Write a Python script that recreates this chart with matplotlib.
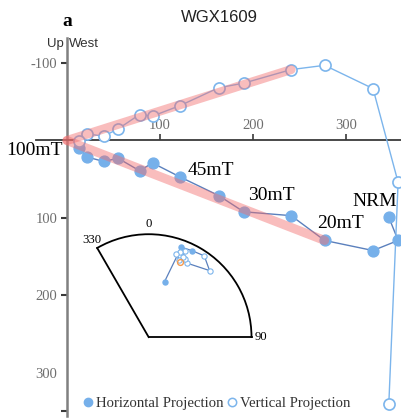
import matplotlib
matplotlib.use("Agg")
import matplotlib.pyplot as plt
from matplotlib.lines import Line2D
import numpy as np

plt.rcParams['axes.unicode_minus'] = False
SERIF = ['Liberation Serif', 'DejaVu Serif']
SANS = ['Liberation Sans', 'DejaVu Sans']

# Demagnetisation steps, NRM first
step_labels = ['NRM', '', '', '20mT', '', '30mT', '', '45mT', '', '', '', '', '', '100mT']
west = [346, 356, 329, 277, 241, 190, 163, 121.5, 92, 78, 55, 39.5, 22, 12.5]
horiz = [99, 129, 142, 129, 97, 92, 71, 47, 29, 39, 23, 27, 21.5, 9.5]
vert = [340, 54, -67, -97, -91.5, -74, -68, -45, -31.5, -33.5, -15, -5.5, -8.5, 1]

# Characteristic component fits (origin to the last step used)
fit_h_step = 3
fit_v_step = 4

x_ticks = [100, 200, 300]
y_ticks = [-100, 100, 200, 300]

# Equal-area net: declination and projected radius of each step
net_dec = [16, 20, 26.6, 34.4, 42.5, 27.4, 25.1, 23.1, 23, 20.3, 18.4, 21.7]
net_r = [0.56, 0.93, 0.94, 0.957, 0.877, 0.81, 0.84, 0.85, 0.91, 0.886, 0.85, 0.81]
net_lower = [True, True, True, False, False, False, False, False, False, False, False, False]
mean_dec = [22.7]
mean_r = [0.796]

H_COLOR = '#76b0ea'
H_LINE = '#5b80bd'
V_COLOR = '#7cb5ec'
FIT = '#f26d6d'

fig = plt.figure(figsize=(4.01, 4.19), dpi=100)
ax = fig.add_axes([0, 0, 1, 1])
ax.set_xlim(-72.0, 359.1)
ax.set_ylim(359.4, -181.3)
ax.patch.set_visible(False)

# projections
ax.plot(west, horiz, color=H_LINE, lw=1.0, zorder=3)
ax.plot(west, horiz, 'o', ms=7.8, mfc=H_COLOR, mec=H_COLOR, lw=0, zorder=4, clip_on=False)
ax.plot(west, vert, color=V_COLOR, lw=1.0, zorder=3)
ax.plot(west, vert, 'o', ms=8.0, mfc='white', mec=V_COLOR, mew=1.2, lw=0, zorder=4, clip_on=False)

# fit lines
ax.plot([0, west[fit_h_step]], [0, horiz[fit_h_step]], color=FIT, lw=6.5, alpha=0.45,
        solid_capstyle='round', zorder=5)
ax.plot([0, west[fit_v_step]], [0, vert[fit_v_step]], color=FIT, lw=6.5, alpha=0.45,
        solid_capstyle='round', zorder=5)

# step labels
offsets = {'NRM': (-10.4, 11.2), '20mT': (11.2, 11.9), '30mT': (19.8, 12.0),
           '45mT': (22.0, 4.8), '100mT': (-31.5, -2.0)}
for lab, x, y in zip(step_labels, west, horiz):
    if lab:
        ax.annotate(lab, (x, y), xytext=offsets[lab], textcoords='offset points',
                    ha='center', va='center', fontsize=14, family=SERIF, color='black', zorder=6)

# axes through the origin
for s in ['right', 'bottom']:
    ax.spines[s].set_visible(False)
ax.spines['left'].set_position(('data', 0))
ax.spines['left'].set_bounds(-132, 355.5)
ax.spines['left'].set_color('#808080')
ax.spines['left'].set_linewidth(1.8)
ax.spines['top'].set_position(('data', 0))
ax.spines['top'].set_bounds(-33.3, 359.1)
ax.spines['top'].set_color('#3a3a3a')
ax.spines['top'].set_linewidth(1.3)

ax.xaxis.set_ticks_position('top')
ax.set_xticks(x_ticks)
ax.set_xticklabels([str(v) for v in x_ticks])
ax.tick_params(axis='x', direction='out', length=4, width=1.2, color='#3a3a3a', pad=2,
               labelsize=10.5, labelcolor='#6e6e6e')
ax.set_yticks(y_ticks)
ax.set_yticklabels([str(v) for v in y_ticks])
ax.set_yticks([349], minor=True)
ax.tick_params(axis='y', which='both', direction='out', length=4, width=1.5, color='#3a3a3a',
               pad=3, labelsize=10.5, labelcolor='#6e6e6e')
ax.yaxis.get_major_ticks()[3].tick1line.set_visible(False)
for t in ax.get_xticklabels() + ax.get_yticklabels():
    t.set_family(SERIF)

ax.annotate('Up', (0, -132), xytext=(-2.5, -4.2), textcoords='offset points',
            ha='right', va='center', fontsize=9.5, family=SANS, color='#333333')
ax.annotate('West', (0, -132), xytext=(1.5, -4.2), textcoords='offset points',
            ha='left', va='center', fontsize=9.5, family=SANS, color='#333333')

fig.text(219 / 401, 1 - 18 / 419, 'WGX1609', ha='center', va='center', fontsize=12,
         family=SANS, color='#222222')
fig.text(67 / 401, 1 - 21 / 419, 'a', ha='center', va='center', fontsize=14,
         family=SERIF, fontweight='bold', color='black')

# legend
handles = [Line2D([], [], ls='none', marker='o', ms=6, mfc=H_COLOR, mec=H_COLOR),
           Line2D([], [], ls='none', marker='o', ms=6, mfc='white', mec=V_COLOR, mew=1.1)]
fig.legend(handles, ['Horizontal Projection', 'Vertical Projection'], loc='center',
           bbox_to_anchor=(216.8 / 401, 1 - 403 / 419), bbox_transform=fig.transFigure,
           ncol=2, frameon=False, handlelength=0.6, handletextpad=0.25, columnspacing=0.25,
           borderpad=0, prop={'family': SERIF, 'size': 10.6}, labelcolor='#333333')

# equal-area net inset
net = fig.add_axes([58.6 / 401, (419 - 362.8) / 419, 231.5 / 401, 154.3 / 419], projection='polar')
net.set_theta_zero_location('N')
net.set_theta_direction(-1)
net.set_thetamin(-30)
net.set_thetamax(90)
net.set_rlim(0, 1)
net.grid(False)
net.set_yticks([])
tick_deg = np.arange(-30, 91, 10)
net.set_xticks(np.radians(tick_deg))
net.set_xticklabels([str(d % 360) if d in (-30, 0, 90) else '' for d in tick_deg])
net.tick_params(axis='x', direction='in', length=3.5, width=1.0, color='black', pad=0,
                labelsize=9.2)
for t in net.get_xticklabels():
    t.set_family(SERIF)
for s in net.spines.values():
    s.set_color('black')
    s.set_linewidth(1.3)
net.spines['inner'].set_visible(False)

th = np.radians(net_dec)
net.plot(th, net_r, color=H_LINE, lw=0.9, zorder=2)
lower = np.array(net_lower)
net.plot(th[lower], np.array(net_r)[lower], 'o', ms=3.6, mfc=H_COLOR, mec=H_COLOR, zorder=3)
net.plot(th[~lower], np.array(net_r)[~lower], 'o', ms=3.8, mfc='white', mec=V_COLOR, mew=0.8, zorder=3)
net.plot(np.radians(mean_dec), mean_r, 'o', ms=4.2, mfc='none', mec='#f39a4e', mew=1.0, zorder=4)

fig.savefig('out.png', dpi=100)
